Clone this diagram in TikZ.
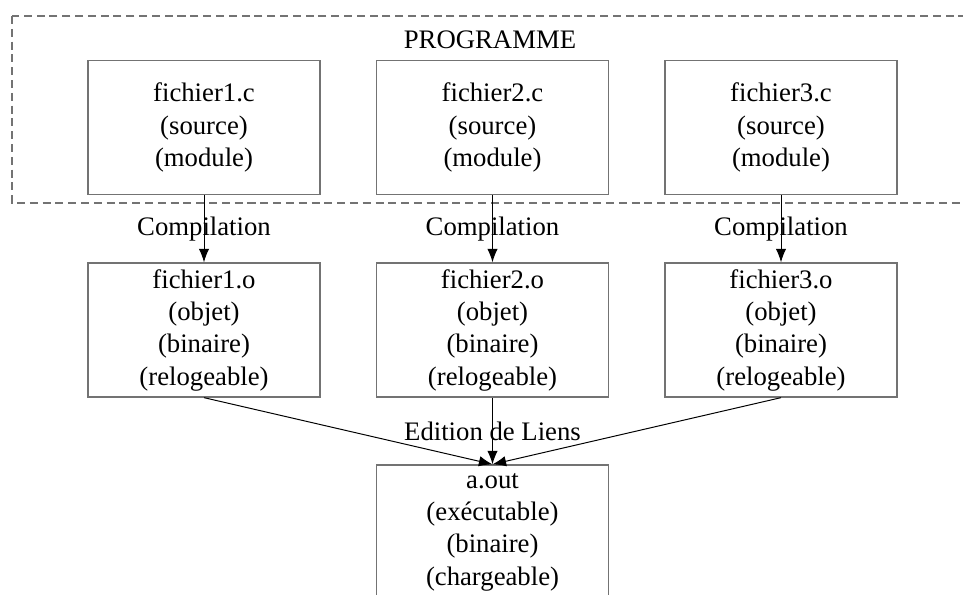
\documentclass[tikz,border=0pt]{standalone}
\usepackage{fontspec}
\setmainfont{Liberation Serif}
\usetikzlibrary{arrows.meta}
\tikzset{
  fichier/.style={draw=black!55, line width=0.9pt, minimum width=5.8cm, minimum height=3.35cm, align=center, inner sep=0pt, font=\fontsize{19}{23}\selectfont},
  fleche/.style={-{Latex[length=0.34cm,width=0.26cm]}, line width=0.7pt},
  etiquette/.style={font=\fontsize{19}{23}\selectfont}
}

\begin{document}
\begin{tikzpicture}[x=0.025cm,y=-0.025cm]
			%%%%% START %%%%%
			\useasboundingbox (0,0) rectangle (963,594);
			\clip (0,0) rectangle (963,594);
			
			\draw[black!55, line width=0.8pt, dash pattern=on 0.2cm off 0.12cm] (12,16) rectangle (1000,203);
			\node[etiquette] (prog) at (490,40) {PROGRAMME};
			
			\node[fichier] (c1) at (204,127.5) {fichier1.c\\(source)\\(module)};
			\node[fichier] (c2) at (492.5,127.5) {fichier2.c\\(source)\\(module)};
			\node[fichier] (c3) at (781,127.5) {fichier3.c\\(source)\\(module)};
			
			\node[fichier] (o1) at (204,330) {fichier1.o\\(objet)\\(binaire)\\(relogeable)};
			\node[fichier] (o2) at (492.5,330) {fichier2.o\\(objet)\\(binaire)\\(relogeable)};
			\node[fichier] (o3) at (781,330) {fichier3.o\\(objet)\\(binaire)\\(relogeable)};
			
			\node[fichier] (aout) at (492.5,532) {a.out\\(exécutable)\\(binaire)\\(chargeable)};
			
			\draw[fleche] (c1) -- node[etiquette] {Compilation} (o1);
			\draw[fleche] (c2) -- node[etiquette] {Compilation} (o2);
			\draw[fleche] (c3) -- node[etiquette] {Compilation} (o3);
			
			\draw[fleche] (o1.south) -- (aout.north);
			\draw[fleche] (o2) -- node[etiquette] {Edition de Liens} (aout);
			\draw[fleche] (o3.south) -- (aout.north);
			
			%%%%% END %%%%%
\end{tikzpicture}
\end{document}
